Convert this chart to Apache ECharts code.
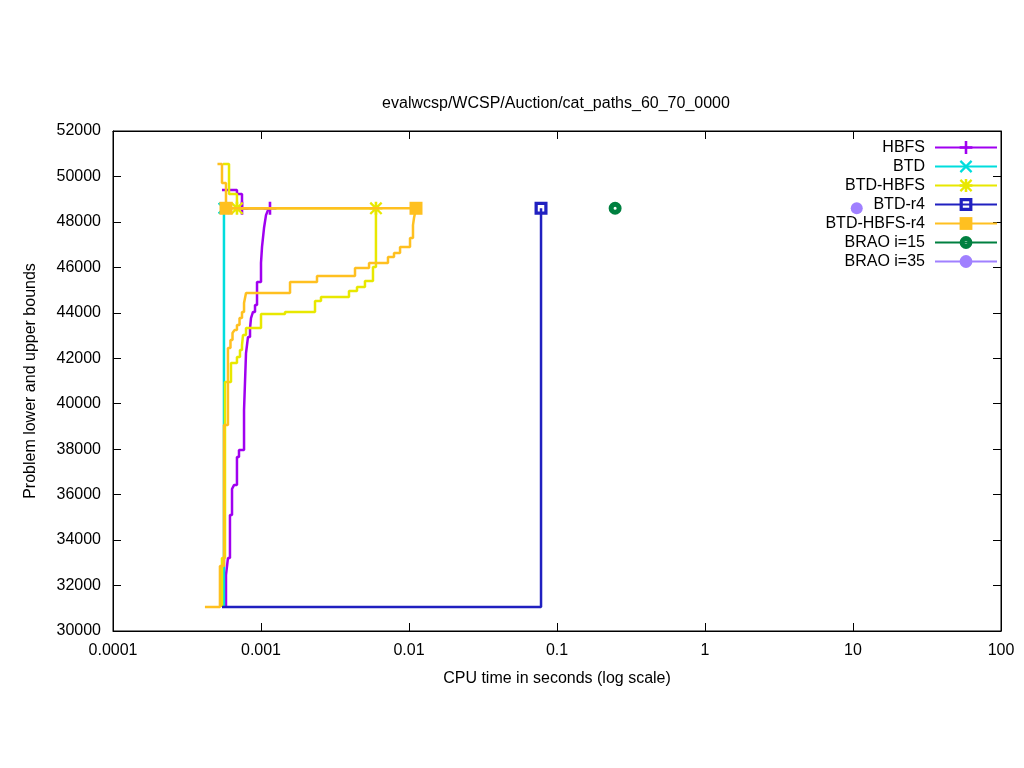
<!DOCTYPE html>
<html>
<head>
<meta charset="utf-8">
<script src="https://cdn.jsdelivr.net/npm/echarts@6/dist/echarts.min.js"></script>
<style>
html,body{margin:0;padding:0;background:#fff;}
#chart{width:1024px;height:768px;}
</style>
</head>
<body>
<div id="chart"></div>
<script>
// ---- data (CPU time in seconds, bound value) ----
const titleText = 'evalwcsp/WCSP/Auction/cat_paths_60_70_0000';
const xTickLabels = ['0.0001', '0.001', '0.01', '0.1', '1', '10', '100'];
const yMin = 30000, yMax = 52000, yStep = 2000;
const seriesNames = ['HBFS', 'BTD', 'BTD-HBFS', 'BTD-r4', 'BTD-HBFS-r4', 'BRAO i=15', 'BRAO i=35'];

const hbfsUB = [[5.45e-4, 49400], [6.88e-4, 49230], [7.44e-4, 48600]];
const hbfsLB = [[5.80e-4, 31060], [5.80e-4, 32460], [5.98e-4, 33210], [6.17e-4, 35100], [6.37e-4, 36250],
  [6.57e-4, 36420], [6.88e-4, 37660], [7.10e-4, 37960], [7.68e-4, 39720], [7.92e-4, 42230],
  [8.17e-4, 42940], [8.43e-4, 43330], [8.56e-4, 43770], [8.83e-4, 44040], [9.11e-4, 44340],
  [9.40e-4, 45360], [1.000e-3, 46190], [1.016e-3, 46900], [1.048e-3, 47730], [1.081e-3, 48300],
  [1.115e-3, 48520], [1.150e-3, 48600]];

const btdUB = [[5.62e-4, 48600]];
const btdLB = [[5.62e-4, 31060], [5.62e-4, 48600]];

const btdHbfsUB = [[5.54e-4, 50550], [6.08e-4, 49230], [6.88e-4, 48600]];
const btdHbfsLB = [[5.45e-4, 31060], [5.45e-4, 33210], [5.71e-4, 40960], [6.27e-4, 41790], [6.88e-4, 42060],
  [7.21e-4, 42360], [7.44e-4, 42580], [7.56e-4, 43020], [7.92e-4, 43330], [1.000e-3, 43950],
  [1.453e-3, 44040], [2.317e-3, 44520], [2.543e-3, 44700], [3.931e-3, 44960], [4.453e-3, 45140],
  [5.04e-3, 45400], [5.71e-3, 46020], [5.98e-3, 48600]];

const btdR4LB = [[5.45e-4, 31060], [7.80e-2, 48600]];

const btdHbfsR4UB = [[5.08e-4, 50550], [5.45e-4, 49710], [5.80e-4, 48600]];
const btdHbfsR4LB = [[4.18e-4, 31060], [5.28e-4, 32860], [5.62e-4, 39060], [5.98e-4, 42450], [6.22e-4, 42800],
  [6.42e-4, 43110], [6.62e-4, 43240], [6.88e-4, 43460], [7.16e-4, 43770], [7.44e-4, 44040],
  [7.68e-4, 44430], [7.92e-4, 44870], [1.571e-3, 45360], [2.390e-3, 45620], [4.317e-3, 45970],
  [5.37e-3, 46190], [7.21e-3, 46460], [7.92e-3, 46630], [8.70e-3, 46900], [1.016e-2, 47290],
  [1.064e-2, 47860], [1.081e-2, 48170], [1.115e-2, 48600]];

const brao15 = [[0.247, 48600]];
const brao35 = [[10.6, 48600]];

// ---- styles ----
const colors = ['#a000f0', '#00dddd', '#e8e800', '#2020c0', '#ffc020', '#008040', '#a080ff'];
const plusPath = 'path://M4.8,0H7.2V4.8H12V7.2H7.2V12H4.8V7.2H0V4.8H4.8Z';
const crossPath = 'path://M0,1.5L1.5,0L12,10.5L10.5,12Z M10.5,0L12,1.5L1.5,12L0,10.5Z';
const starPath = 'path://M4.8,0H7.2V4.8H12V7.2H7.2V12H4.8V7.2H0V4.8H4.8Z M0,1.5L1.5,0L12,10.5L10.5,12Z M10.5,0L12,1.5L1.5,12L0,10.5Z';
const openSquarePath = 'path://M0,0H12V12H0Z M3,3V9H9V3Z';
const dotCirclePath = 'path://M0,6A6,6,0,1,1,12,6A6,6,0,1,1,0,6Z M4.6,6A1.4,1.4,0,1,0,7.4,6A1.4,1.4,0,1,0,4.6,6Z';
const symbols = [plusPath, crossPath, starPath, openSquarePath, 'rect', dotCirclePath, 'circle'];
const symbolSizes = [13, 12, 13, 13, 13, 13, 12];
const FONT = '"Liberation Sans", Arial, sans-serif';

function markedData(arr, extra) {
  const d = arr.map((p, i) => i === arr.length - 1 ? { value: p } : { value: p, symbol: 'none' });
  if (extra) d.push({ value: extra, symbol: 'none' });
  return d;
}
let zc = 2;
function lineSeries(idx, data) {
  return {
    name: seriesNames[idx], type: 'line', step: 'end', data: data,
    xAxisIndex: 0, yAxisIndex: 0,
    symbol: symbols[idx], symbolSize: symbolSizes[idx], showSymbol: true,
    lineStyle: { color: colors[idx], width: 2.5 },
    itemStyle: { color: colors[idx] },
    z: zc++, animation: false, silent: true, clip: false
  };
}
const last = a => a[a.length - 1];

const series = [
  lineSeries(0, markedData(hbfsUB, last(hbfsLB))),
  lineSeries(0, markedData(hbfsLB)),
  lineSeries(1, markedData(btdUB)),
  lineSeries(1, markedData(btdLB)),
  lineSeries(2, markedData(btdHbfsUB, last(btdHbfsLB))),
  lineSeries(2, markedData(btdHbfsLB)),
  lineSeries(3, markedData(btdR4LB)),
  lineSeries(4, markedData(btdHbfsR4UB, last(btdHbfsR4LB))),
  lineSeries(4, markedData(btdHbfsR4LB)),
  lineSeries(5, markedData(brao15)),
  lineSeries(6, markedData(brao35))
];

const tickCommon = { show: true, inside: true, length: 8, lineStyle: { color: '#000', width: 1 } };
const chart = echarts.init(document.getElementById('chart'), null, { renderer: 'canvas' });
chart.setOption({
  animation: false,
  backgroundColor: '#fff',
  textStyle: { fontFamily: FONT },
  title: {
    text: titleText, left: 551, top: 91, textAlign: 'center',
    textStyle: { fontFamily: FONT, fontSize: 16, fontWeight: 'normal', color: '#000' }
  },
  grid: { left: 113, top: 131, width: 888, height: 500, show: true, borderColor: '#000', borderWidth: 1, backgroundColor: 'transparent' },
  legend: {
    data: seriesNames, orient: 'vertical', right: 21, top: 134, align: 'right',
    itemWidth: 62, itemHeight: 16, itemGap: 2, selectedMode: false,
    textStyle: { fontFamily: FONT, fontSize: 16, color: '#000', lineHeight: 17, padding: [0, 5, 0, 0] }
  },
  xAxis: [{
    type: 'log', logBase: 10, min: 0.0001, max: 100, position: 'bottom',
    name: 'CPU time in seconds (log scale)', nameLocation: 'middle', nameGap: 40,
    nameTextStyle: { fontFamily: FONT, fontSize: 16, color: '#000' },
    axisLine: { show: true, lineStyle: { color: '#000', width: 1 } },
    axisTick: tickCommon,
    axisLabel: { fontFamily: FONT, fontSize: 16, color: '#000', margin: 12,
      formatter: v => xTickLabels[Math.round(Math.log10(v)) + 4] },
    splitLine: { show: false }
  }, {
    type: 'log', logBase: 10, min: 0.0001, max: 100, position: 'top',
    axisLine: { show: true, lineStyle: { color: '#000', width: 1 } },
    axisTick: tickCommon, axisLabel: { show: false }, splitLine: { show: false }
  }],
  yAxis: [{
    type: 'value', min: yMin, max: yMax, interval: yStep, position: 'left',
    name: 'Problem lower and upper bounds', nameLocation: 'middle', nameGap: 74, nameRotate: 90,
    nameTextStyle: { fontFamily: FONT, fontSize: 16, color: '#000' },
    axisLine: { show: true, lineStyle: { color: '#000', width: 1 } },
    axisTick: tickCommon,
    axisLabel: { fontFamily: FONT, fontSize: 16, color: '#000', margin: 12, formatter: v => String(v) },
    splitLine: { show: false }
  }, {
    type: 'value', min: yMin, max: yMax, interval: yStep, position: 'right',
    axisLine: { show: true, lineStyle: { color: '#000', width: 1 } },
    axisTick: tickCommon, axisLabel: { show: false }, splitLine: { show: false }
  }],
  series: series
});
</script>
</body>
</html>
